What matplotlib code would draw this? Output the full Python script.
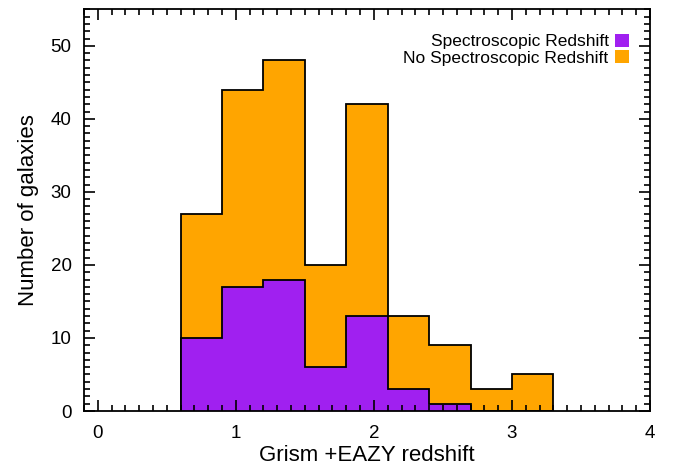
import matplotlib
matplotlib.use("Agg")
import matplotlib.pyplot as plt
import matplotlib.transforms as mtransforms
from matplotlib.patches import Patch
from matplotlib.ticker import MultipleLocator

plt.rcParams['font.family'] = ['Liberation Sans', 'DejaVu Sans']

# histogram bin edges (redshift)
bin_edges = [0.6, 0.9, 1.2, 1.5, 1.8, 2.1, 2.4, 2.7, 3.0, 3.3]

# all galaxies (no spec-z shown on top)
counts_all = [27, 44, 48, 20, 42, 13, 9, 3, 5]
# galaxies with spectroscopic redshift
counts_spec = [10, 17, 18, 6, 13, 3, 1, 0, 0]

labels = ['Spectroscopic Redshift', 'No Spectroscopic Redshift']
orange = '#FFA500'
purple = '#A020F0'

fig = plt.figure(figsize=(6.73, 4.70), dpi=100)
ax = fig.add_axes([84 / 673, 1 - 411 / 470, (650 - 84) / 673, (411 - 9.3) / 470])

ax.stairs(counts_all, bin_edges, fill=True, facecolor=orange,
          edgecolor='none', baseline=0)
ax.stairs(counts_all, bin_edges, fill=False, color='black', lw=1.3, baseline=0)
ax.stairs(counts_spec, bin_edges, fill=True, facecolor=purple,
          edgecolor='none', baseline=0)
ax.stairs(counts_spec, bin_edges, fill=False, color='black', lw=1.3, baseline=0)

ax.set_xlim(-0.1, 4)
ax.set_ylim(0, 55)

ax.xaxis.set_major_locator(MultipleLocator(1))
ax.xaxis.set_minor_locator(MultipleLocator(0.1))
ax.yaxis.set_major_locator(MultipleLocator(10))
ax.yaxis.set_minor_locator(MultipleLocator(1))
ax.tick_params(which='both', direction='in', top=True, right=True, width=1.2,
               labelsize=13.5)
ax.tick_params(which='major', length=8)
ax.tick_params(which='minor', length=4)
ax.tick_params(axis='x', pad=10)
ax.tick_params(axis='y', pad=9)
for sp in ax.spines.values():
    sp.set_linewidth(1.3)

# the "0" label on the y axis sits a bit higher in the original
fig.canvas.draw()
ylabels = ax.get_yticklabels()
ylabels[0].set_transform(ylabels[0].get_transform() +
                         mtransforms.ScaledTranslation(0, 7 / 72, fig.dpi_scale_trans))

ax.set_xlabel('Grism +EAZY redshift', fontsize=16, labelpad=2)
ax.set_ylabel('Number of galaxies', fontsize=16, labelpad=8)

handles = [Patch(facecolor=purple, edgecolor='none'),
           Patch(facecolor=orange, edgecolor='none')]
ax.legend(handles, labels, loc='upper right', frameon=False, markerfirst=False,
          fontsize=12.5, handlelength=0.8, handleheight=0.8, handletextpad=0.4,
          labelspacing=0.05, borderaxespad=0.3, bbox_to_anchor=(0.985, 0.97))

fig.savefig('out.png', dpi=100)
